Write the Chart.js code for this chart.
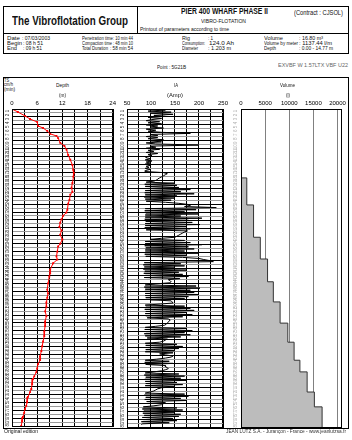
<!DOCTYPE html>
<html><head><meta charset="utf-8">
<script src="https://cdn.jsdelivr.net/npm/chart.js@4.4.1/dist/chart.umd.min.js"></script>
<style>
html,body{margin:0;padding:0;background:#fff;}
#page{position:relative;width:352px;height:440px;overflow:hidden;font-family:'Liberation Sans',Arial,sans-serif;color:#111;background:#fff;}
.t{position:absolute;white-space:nowrap;line-height:1;transform-origin:0 50%;}
.box{position:absolute;border:1px solid #000;box-sizing:border-box;}
.ln{position:absolute;background:#000;}
canvas{position:absolute;}
</style></head>
<body>
<div id="page">
  <div class="box" style="left:3px;top:6px;width:346px;height:48px;"></div>
  <div class="ln" style="left:137px;top:6px;width:1px;height:27px;"></div>
  <div class="ln" style="left:3px;top:33px;width:346px;height:1px;"></div>
  <div class="box" style="left:3px;top:77px;width:346px;height:352px;"></div>
  <canvas id="cDepth" width="115" height="334" style="left:3px;top:96px;"></canvas>
  <canvas id="cIA" width="112" height="334" style="left:118px;top:96px;"></canvas>
  <canvas id="cVol" width="118" height="334" style="left:230px;top:96px;"></canvas>
</div>
<script>
// ---------- data ----------
// time axis (minutes)
const timeMin = 0, timeMax = 60;
// depth trace: time (min) / depth (m)
const depthTime = [0,0.57,1.3,1.9,2.45,3.2,3.6,4.15,4.7,5.1,5.5,6.4,7.0,7.7,8.7,9.6,10.6,11.5,12.1,12.8,14.0,14.9,15.7,16.2,17.2,17.9,19.1,19.6,20.2,20.9,21.5,22.3,23.0,23.8,24.7,25.5,26.0,27.0,27.9,28.5,29.2,30.4,31.1,31.7,33.0,34.2,34.9,35.7,36.6,37.4,38.3,39.2,40.2,41.1,42.1,43.0,44.0,44.9,45.8,46.8,47.5,48.3,49.1,49.8,50.6,51.1,52.1,53.0,53.6,54.5,55.5,56.2,56.8,57.5,58.3,59.1,60.0];
const depthValue = [0,1.4,3.1,4.3,6.0,6.2,7.4,8.4,9.1,10.6,11.0,11.5,12.5,13.0,13.4,13.9,14.4,14.6,14.77,14.6,14.4,14.2,14.4,13.9,13.7,13.4,13.2,12.96,12.2,11.8,11.5,11.3,11.8,11.5,12.0,11.5,11.0,10.8,10.6,10.8,9.8,9.1,9.1,8.9,8.6,8.4,8.6,8.4,8.2,8.2,7.9,8.2,7.9,7.9,7.7,7.7,7.4,7.2,7.0,6.7,6.7,6.2,6.0,5.8,5.3,5.0,4.8,4.6,4.3,3.8,3.6,3.4,3.1,2.9,2.6,2.4,2.2];
// IA (Amp) readings, one sample every 0.2 min
const iaSampleMin = 0.2;
const iaAmp = [
90,130,94,142,98,146,106,130,94,122,
102,90,118,94,122,90,114,98,126,90,
110,94,122,182,98,114,90,114,94,126,
98,122,90,110,200,98,110,90,118,94,
106,90,114,94,102,90,90,100,88,102,
90,98,88,100,90,96,88,98,89,88,
126,134,130,126,122,118,114,112,106,90,
150,87,154,88,158,86,182,88,162,87,
190,88,154,86,150,88,142,90,130,158,
176,182,170,236,88,194,87,170,89,198,
88,162,88,206,87,178,89,186,88,202,
88,174,87,182,90,176,170,166,162,158,
154,150,122,98,170,88,182,88,206,87,
178,89,190,88,170,88,198,87,174,89,
166,200,210,222,230,86,162,84,170,86,
150,84,174,87,158,85,166,88,178,86,
160,136,140,142,138,110,88,194,86,202,
88,182,87,190,88,198,88,178,89,170,
100,142,144,146,120,88,170,89,182,87,
190,89,174,88,186,89,166,92,136,140,
138,136,134,132,128,110,88,174,87,186,
89,170,86,182,88,162,92,134,130,126,
118,88,154,89,166,87,158,89,150,88,
146,118,130,146,142,130,112,88,138,87,
146,89,130,130,134,136,130,122,106,88,
158,86,170,89,162,87,174,88,154,89,
166,88,150,122,114,110,106,98,88,170,
86,178,89,162,87,174,91,130,126,122,
106,84,154,82,166,85,150,83,162,86,
158,82,146,84,154,80,138,82,80];
// cumulative volume (l) at each gravel charge
const volTime  = [0,13.0,18.1,24.2,28.3,32.6,36.4,40.4,44.0,47.4,49.6,53.4,56.2,60.0];
const volValue = [0,1200,2600,4000,5500,6700,8100,9700,11000,12200,13700,15200,16800,16800];
// axis ticks
const depthGrid = [0,3,6,9,12,15,18,21,24];
const depthLabels = [0,6,12,18,24];
const iaGrid = [50,75,100,125,150,175,200,225,250];
const iaLabels = [50,100,150,200,250];
const volGrid = [0,5000,10000,15000,20000];
const rowStep = 0.75;

// ---------- header texts ----------
const page = document.getElementById('page');
function T(txt, left, cy, size, w, o) {
  o = o || {};
  const d = document.createElement('div');
  d.className = 't';
  d.textContent = txt;
  d.style.fontSize = size + 'px';
  if (o.bold) d.style.fontWeight = 'bold';
  if (o.color) d.style.color = o.color;
  page.appendChild(d);
  const nat = d.getBoundingClientRect().width;
  const k = w / nat;
  let l = left;
  if (o.center) l = left - w / 2;
  if (o.right) l = left - w;
  d.style.left = l + 'px';
  d.style.top = (cy - size / 2) + 'px';
  d.style.transform = 'scaleX(' + k + ')';
}
T('The Vibroflotation Group', 12, 20.5, 13, 116, {bold:1});
T('PIER 400 WHARF PHASE II', 181, 11, 9.5, 87, {bold:1});
T('(Contract : CJSOL)', 294, 13, 6.5, 49);
T('VIBRO-FLOTATION', 201, 21, 6, 45);
T('Printout of parameters according to time', 140, 29, 6, 89);
const rows = [39, 44, 49];
T('Date', 7, rows[0], 5.5, 13); T(': 07/03/2003', 22, rows[0], 5.5, 28);
T('Begin', 7, rows[1], 5.5, 15); T(': 08 h 51', 23, rows[1], 5.5, 20);
T('End', 7, rows[2], 5.5, 10); T(': 09 h 51', 23, rows[2], 5.5, 19);
T('Penetration time', 82, rows[0], 5.5, 31); T(': 10 min 44', 113, rows[0], 5.5, 20);
T('Compaction time', 82, rows[1], 5.5, 30); T(': 48 min 10', 113, rows[1], 5.5, 20);
T('Total Duration', 82, rows[2], 5.5, 26); T(': 58 min 54', 110, rows[2], 5.5, 23);
T('Rig', 182, rows[0], 5.5, 8); T(': 1', 208, rows[0], 5.5, 5);
T('Consumption:', 182, rows[1], 5.5, 23); T('124.0 Ah', 209, rows[1], 5.5, 25);
T('Diameter', 182, rows[2], 5.5, 16); T(': 1.203 m', 208, rows[2], 5.5, 23);
T('Volume', 264, rows[0], 5.5, 19); T(': 16.80 m³', 299, rows[0], 5.5, 24);
T('Volume by meter', 264, rows[1], 5.5, 34); T(': 1137.44 l/m', 299, rows[1], 5.5, 33);
T('Depth', 264, rows[2], 5.5, 12); T(': 0.00 - 14.77 m', 299, rows[2], 5.5, 34);
T('Point : 5G21B', 157, 67, 6, 29);
T('EXVBF W 1.57LTX VBF U22', 278, 66, 5.5, 70, {color:'#666'});
T('TS', 4, 80, 5, 5); T('cm/h', 4, 84.5, 5, 9); T('(min)', 4, 89, 5, 11);
T('Depth', 62, 85, 6, 13, {center:1}); T('(m)', 62, 95, 6, 7, {center:1});
T('IA', 176, 85, 6, 4, {center:1}); T('(Amp)', 175, 95, 6, 16, {center:1});
T('Volume', 287, 85, 6, 15, {center:1}); T('(l)', 288, 95, 6, 4, {center:1});
T('Original edition', 4, 431.5, 5.5, 34);
T('JEAN LUTZ S.A. - Jurançon - France - www.jeanlutzsa.fr', 346, 431.5, 5.5, 120, {right:1, color:'#333'});

// ---------- charts ----------
Chart.defaults.font.family = "'Liberation Sans', Arial, sans-serif";
const rowTicks = [];
for (let v = timeMin; v <= timeMax + 1e-9; v += rowStep) rowTicks.push(Math.round(v * 100) / 100);

const frame = {id:'frame', afterDraw(c){
  const a = c.chartArea, x = c.ctx;
  x.save(); x.strokeStyle = '#000'; x.lineWidth = 1;
  x.strokeRect(Math.round(a.left) + .5, Math.round(a.top) + .5, Math.round(a.right - a.left), Math.round(a.bottom - a.top));
  x.restore();
}};
// small rotated row labels in the column left of each panel
const rowLabels = {id:'rowLabels', afterDraw(c, args, opts){
  const ys = c.scales.y, ctx = c.ctx, a = c.chartArea;
  ctx.save();
  ctx.fillStyle = opts.color || '#333';
  ctx.font = "4.5px 'Liberation Sans', Arial, sans-serif";
  ctx.textAlign = 'center'; ctx.textBaseline = 'middle';
  for (let i = 1; i < rowTicks.length; i++) {
    const py = (ys.getPixelForValue(rowTicks[i - 1]) + ys.getPixelForValue(rowTicks[i])) / 2;
    ctx.save();
    ctx.translate(a.left - opts.offset, py);
    ctx.rotate(-Math.PI / 2);
    ctx.fillText(String(i), 0, 0);
    ctx.restore();
  }
  ctx.restore();
}};

function yAxis(width, gridOn) {
  return {
    type:'linear', reverse:true, min:timeMin, max:timeMax,
    afterBuildTicks: s => { s.ticks = rowTicks.map(v => ({value:v})); },
    afterFit: s => { s.width = width; },
    ticks:{display:false, autoSkip:false},
    grid:{display:gridOn, drawTicks:false, lineWidth:1, color: ctx => (ctx.index % 2 ? '#9a9a9a' : '#000')},
    border:{display:false}
  };
}
function xAxis(min, max, grid, labels, gridColor) {
  return {
    type:'linear', position:'top', min:min, max:max,
    afterBuildTicks: s => { s.ticks = grid.map(v => ({value:v})); },
    afterFit: s => { s.height = 13; },
    ticks:{autoSkip:false, maxRotation:0, minRotation:0, padding:2, color:'#000', font:{size:6},
      callback: v => (labels.includes(v) ? String(v) : '')},
    grid:{drawTicks:false, color:gridColor, lineWidth:1},
    border:{display:false}
  };
}
function opts(padRight, scales, labelColor, labelOffset) {
  return {responsive:false, animation:false, devicePixelRatio:1, indexAxis:'y', events:[],
    layout:{padding:{left:0, right:padRight, top:0, bottom:3}},
    plugins:{legend:{display:false}, tooltip:{enabled:false}, rowLabels:{color:labelColor, offset:labelOffset}},
    scales:scales};
}

new Chart(document.getElementById('cDepth'), {
  type:'line',
  data:{datasets:[{data: depthTime.map((t,i) => ({x:depthValue[i], y:t})),
    borderColor:'#ff0000', backgroundColor:'#ff0000', borderWidth:1, pointStyle:'rect',
    pointRadius:1.3, pointBorderWidth:0, fill:false, tension:0}]},
  options:opts(5, {x:xAxis(0, 24, depthGrid, depthLabels, '#000'), y:yAxis(9, true)}, '#333', 4),
  plugins:[frame, rowLabels]
});

new Chart(document.getElementById('cIA'), {
  type:'line',
  data:{datasets:[{data: iaAmp.map((a,i) => ({x:a, y:i * iaSampleMin})),
    borderColor:'#000', borderWidth:1, pointRadius:0, fill:false, tension:0}]},
  options:opts(3, {x:xAxis(50, 250, iaGrid, iaLabels, '#000'), y:yAxis(9, true)}, '#333', 4),
  plugins:[frame, rowLabels]
});

new Chart(document.getElementById('cVol'), {
  type:'line',
  data:{datasets:[{data: volTime.map((t,i) => ({x:volValue[i], y:t})),
    borderColor:'#333', backgroundColor:'#bcbcbc', borderWidth:1, pointRadius:0,
    stepped:'after', fill:'origin', tension:0}]},
  options:opts(3, {x:xAxis(0, 20800, volGrid, volGrid, '#808080'), y:yAxis(11, false)}, '#b0b0b0', 5),
  plugins:[frame, rowLabels]
});
</script>
</body></html>
